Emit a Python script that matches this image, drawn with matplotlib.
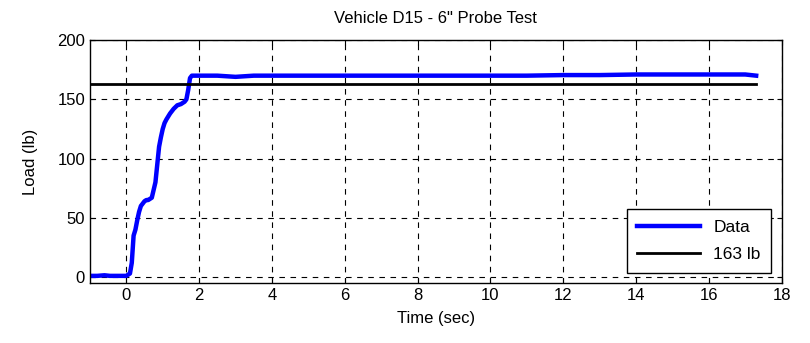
import numpy as np
from matplotlib import pyplot as plt

plt.rcParams['font.family'] = ['Liberation Sans', 'DejaVu Sans']

# load trace
t = [-1.0, -0.8, -0.6, -0.45, -0.3, -0.15, 0.0, 0.1, 0.15, 0.2, 0.25, 0.3, 0.35,
     0.4, 0.45, 0.5, 0.55, 0.6, 0.7, 0.8, 0.85, 0.9, 0.95, 1.0, 1.05, 1.1,
     1.2, 1.3, 1.4, 1.5, 1.6, 1.65, 1.7, 1.75, 1.8, 1.9, 2.0, 2.5, 3.0, 3.5,
     4.0, 5.0, 6.0, 7.0, 8.0, 9.0, 10.0, 11.0, 12.0, 13.0, 14.0, 15.0, 16.0,
     17.0, 17.3]
load = [1, 1, 1.5, 1, 1, 1, 1, 3, 12, 35, 40, 48, 55, 60, 62, 64, 65, 65, 67,
        80, 95, 110, 118, 125, 130, 133, 138, 142, 145, 146, 148, 150, 158, 168,
        170, 170, 170, 170, 169, 170, 170, 170, 170, 170, 170, 170, 170, 170,
        170.5, 170.5, 171, 171, 171, 171, 170]
ref_t = [-1.0, 17.3]
ref_load = [163, 163]

fig = plt.figure(figsize=(8.1, 3.43), dpi=100)
ax = fig.add_axes([0.111, 0.175, 0.854, 0.708])
ax.plot(t, load, color='blue', linewidth=3.2, label='Data')
ax.plot(ref_t, ref_load, color='black', linewidth=2, label='163 lb')

ax.set_xlim(-1, 18)
ax.set_ylim(-5, 200)
ax.set_xticks(np.arange(0, 19, 2))
ax.set_yticks(np.arange(0, 201, 50))
ax.grid(True, color='black', linestyle=(0, (5, 5)), linewidth=0.8)
ax.tick_params(direction='in', labelsize=12, top=True, right=True)
for s in ax.spines.values():
    s.set_linewidth(1)

ax.set_title('Vehicle D15 - 6" Probe Test', fontsize=12, pad=12)
ax.set_xlabel('Time (sec)', fontsize=12, labelpad=6)
ax.set_ylabel('Load (lb)', fontsize=12, labelpad=14)
leg = ax.legend(loc='lower right', fontsize=12.5, fancybox=False, framealpha=1,
                edgecolor='black', borderaxespad=0.6, handlelength=3.6,
                borderpad=0.6, labelspacing=0.7)
leg.get_frame().set_linewidth(1)

fig.savefig('out.png')
